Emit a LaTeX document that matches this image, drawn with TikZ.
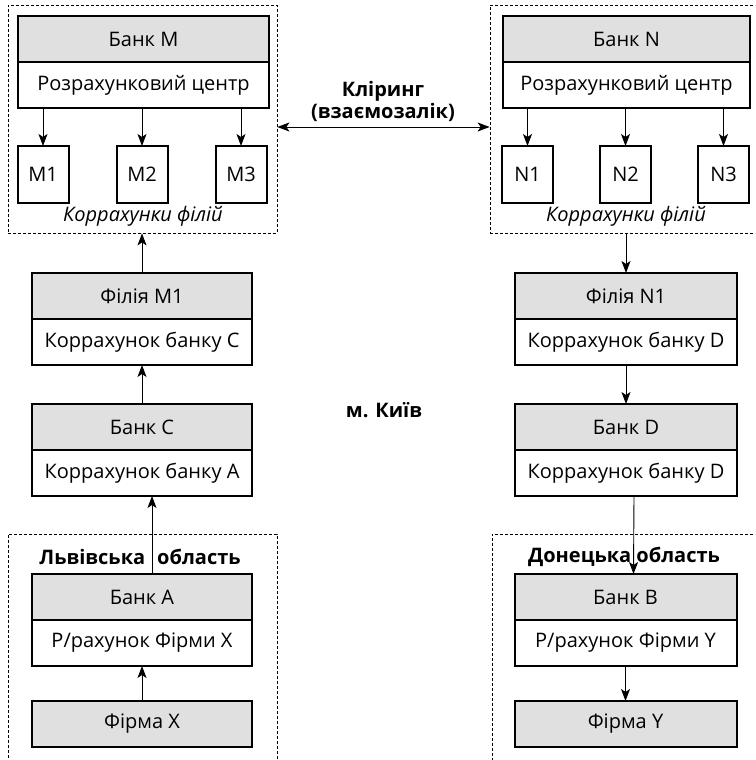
\documentclass[tikz,border=0pt]{standalone}
\usepackage{fontspec}
\setmainfont{Open Sans}
\usetikzlibrary{arrows.meta,positioning}

\begin{document}
\begin{tikzpicture}[x=1pt,y=-1pt,
      every node/.style={font=\fontsize{20}{24}\selectfont, inner sep=0pt},
      headbox/.style={draw, line width=2pt, outer sep=0pt, fill=black!12, minimum height=46pt},
      accbox/.style={draw, line width=2pt, outer sep=0pt, fill=white, minimum height=46pt},
      subbox/.style={draw, line width=2pt, outer sep=0pt, minimum width=51pt, minimum height=57pt},
      zone/.style={draw, line width=0.8pt, dash pattern=on 3pt off 2pt},
      conn/.style={-{Stealth[length=12pt,width=9pt,inset=3pt]}, line width=0.9pt},
      bold/.style={font=\fontsize{20}{22}\selectfont\bfseries, align=center}
    ]
      \clip (0,0) rectangle (755,760);
      \node[zone, minimum width=269pt, minimum height=228pt] (zoneM) at (142.5,119) {};
      \node[zone, minimum width=300pt, minimum height=228pt] (zoneN) at (640,119) {};
      \node[zone, minimum width=269pt, minimum height=266pt] (zoneL) at (142.5,667) {};
      \node[zone, minimum width=300pt, minimum height=266pt] (zoneD) at (642,667) {};

      \node[headbox, minimum width=251pt] (bankM) at (143.5,39) {Банк M};
      \node[accbox, minimum width=251pt, below=0pt of bankM] (rcM) {Розрахунковий центр};
      \node[subbox] (m1) at (43,174.5) {M1};
      \node[subbox] (m2) at (142,174.5) {M2};
      \node[subbox] (m3) at (241,174.5) {M3};
      \node[anchor=base, font=\fontsize{20}{24}\selectfont\itshape] (korM) at (143,221) {Коррахунки філій};

      \node[headbox, minimum width=247pt] (bankN) at (626.5,39) {Банк N};
      \node[accbox, minimum width=247pt, below=0pt of bankN] (rcN) {Розрахунковий центр};
      \node[subbox] (n1) at (527.5,174.5) {N1};
      \node[subbox] (n2) at (625.5,174.5) {N2};
      \node[subbox] (n3) at (723.5,174.5) {N3};
      \node[anchor=base, font=\fontsize{20}{24}\selectfont\itshape] (korN) at (626,221) {Коррахунки філій};

      \node[bold] (clear) at (383,101) {Кліринг\\(взаємозалік)};
      \node[bold] (kyiv) at (384,410) {м. Київ};

      \node[headbox, minimum width=220pt] (filM) at (142,296) {Філія M1};
      \node[accbox, minimum width=220pt, below=0pt of filM] (accC) {Коррахунок банку C};
      \node[headbox, minimum width=220pt] (bankC) at (142,427) {Банк C};
      \node[accbox, minimum width=220pt, below=0pt of bankC] (accA) {Коррахунок банку A};
      \node[bold] (lviv) at (140,557) {Львівська\hspace{12pt}область};
      \node[headbox, minimum width=220pt] (bankA) at (142,597) {Банк A};
      \node[accbox, minimum width=220pt, below=0pt of bankA] (accX) {Р/рахунок Фірми X};
      \node[headbox, minimum width=220pt] (firmX) at (142,724) {Фірма X};

      \node[headbox, minimum width=222pt] (filN) at (626,296) {Філія N1};
      \node[accbox, minimum width=222pt, below=0pt of filN] (accD) {Коррахунок банку D};
      \node[headbox, minimum width=222pt] (bankD) at (626,427) {Банк D};
      \node[accbox, minimum width=222pt, below=0pt of bankD] (accDD) {Коррахунок банку D};
      \node[bold] (donetsk) at (624,557) {Донецька область};
      \node[headbox, minimum width=222pt] (bankB) at (625.5,597) {Банк B};
      \node[accbox, minimum width=222pt, below=0pt of bankB] (accY) {Р/рахунок Фірми Y};
      \node[headbox, minimum width=222pt] (firmY) at (625.5,724) {Фірма Y};

      \foreach \s in {m1,m2,m3} \draw[conn] (rcM.south -| \s) -- (\s);
      \foreach \s in {n1,n2,n3} \draw[conn] (rcN.south -| \s) -- (\s);
      \draw[{Stealth[length=12pt,width=9pt,inset=3pt]}-{Stealth[length=12pt,width=9pt,inset=3pt]}, line width=0.9pt]
        ([yshift=-8pt]zoneM.east) -- ([yshift=-8pt]zoneM.east -| zoneN.west);
      \draw[conn] (filM.north) -- (filM.north |- zoneM.south);
      \draw[conn] (bankC.north) -- (accC.south);
      \draw[conn] ([xshift=10pt]bankA.north) -- ([xshift=10pt]accA.south);
      \draw[conn] (firmX.north) -- (accX.south);
      \draw[conn] (filN.north |- zoneN.south) -- (filN.north);
      \draw[conn] (accD.south) -- (bankD.north);
      \draw[conn] ([xshift=8pt]accDD.south) -- ([xshift=8pt]bankB.north);
      \draw[conn] (accY.south) -- (firmY.north);
    \end{tikzpicture}
\end{document}
